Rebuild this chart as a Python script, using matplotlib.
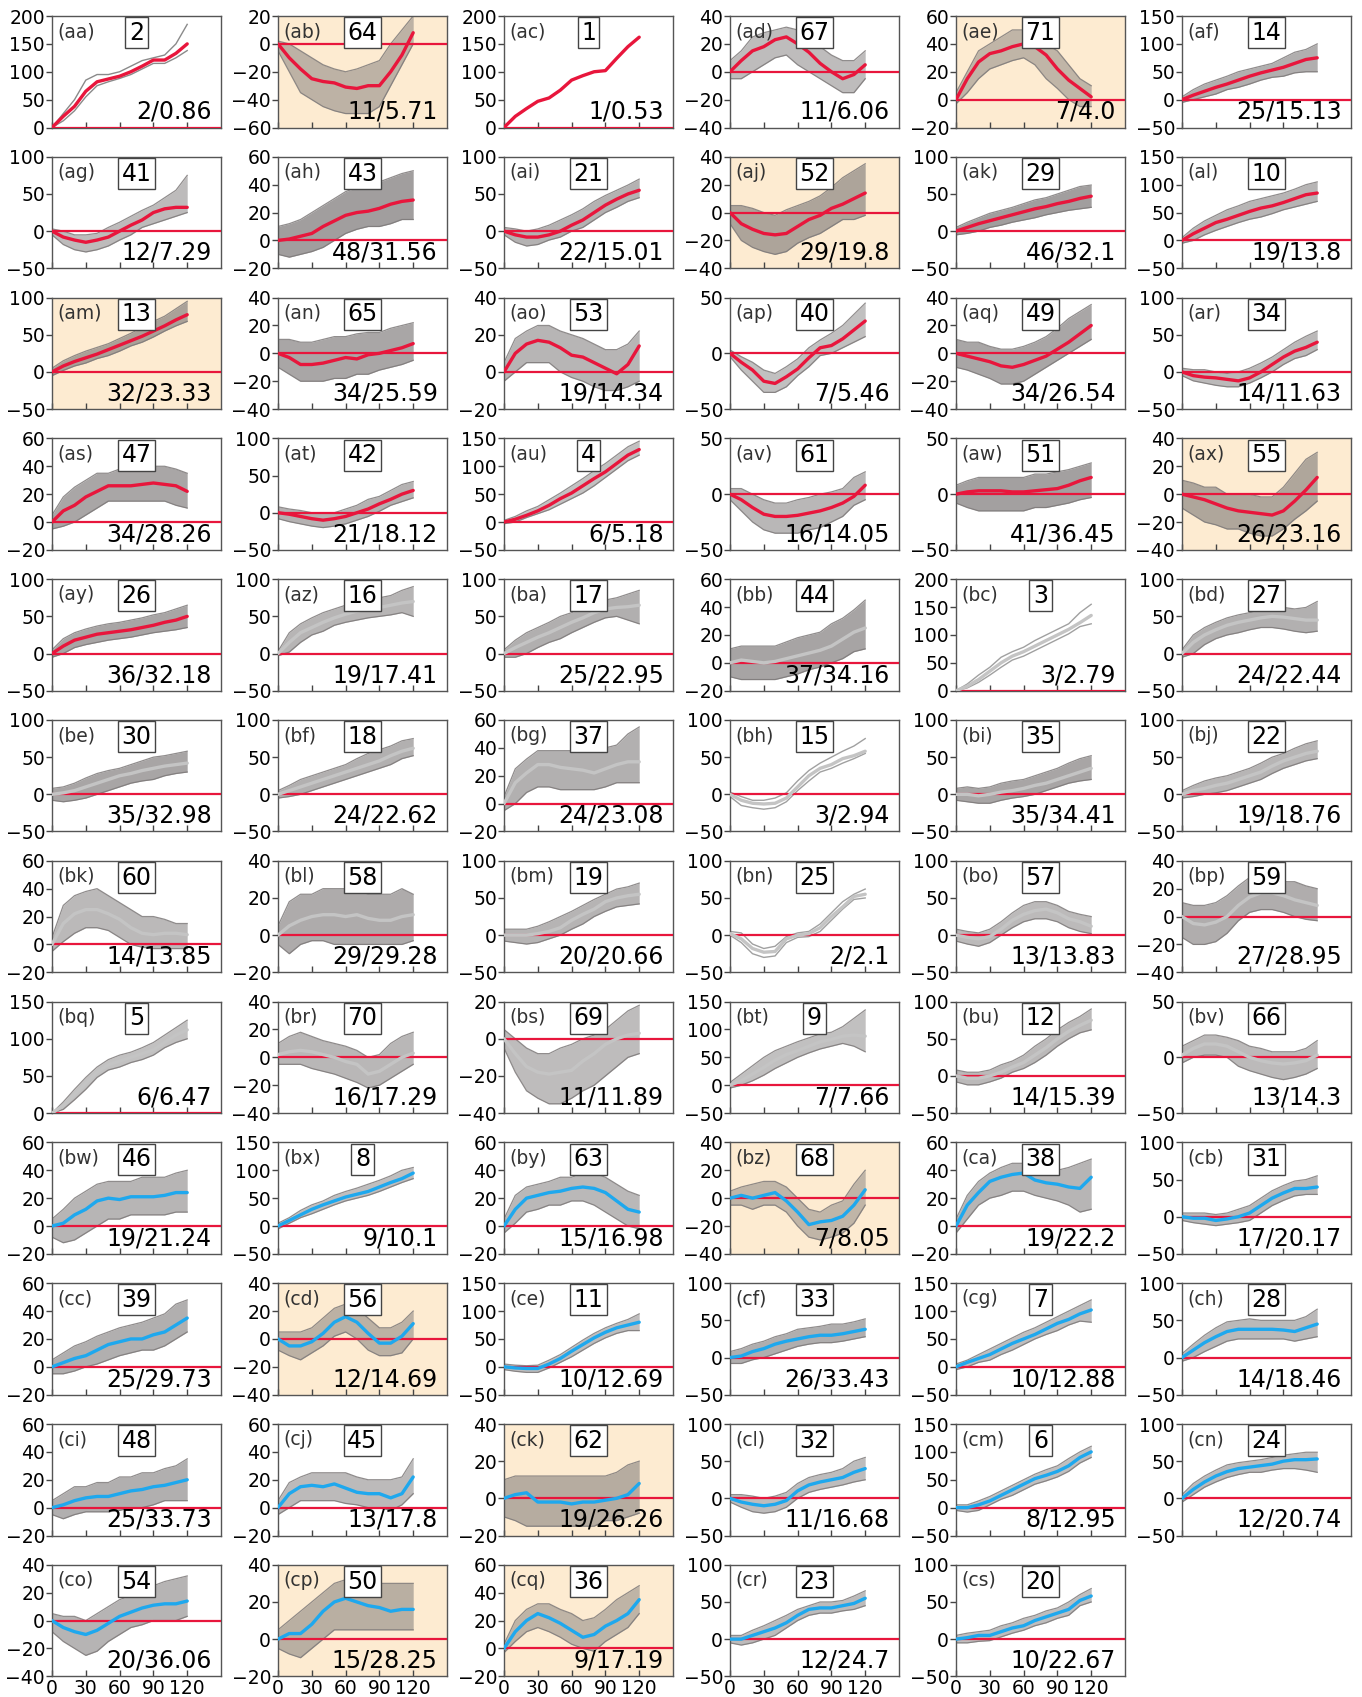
import matplotlib
matplotlib.use('Agg')
import matplotlib.pyplot as plt
import numpy as np

# ---------------- data ----------------
X = [0, 10, 20, 30, 40, 50, 60, 70, 80, 90, 100, 110, 120]

PANEL_IDS = ['aa', 'ab', 'ac', 'ad', 'ae', 'af',
             'ag', 'ah', 'ai', 'aj', 'ak', 'al',
             'am', 'an', 'ao', 'ap', 'aq', 'ar',
             'as', 'at', 'au', 'av', 'aw', 'ax',
             'ay', 'az', 'ba', 'bb', 'bc', 'bd',
             'be', 'bf', 'bg', 'bh', 'bi', 'bj',
             'bk', 'bl', 'bm', 'bn', 'bo', 'bp',
             'bq', 'br', 'bs', 'bt', 'bu', 'bv',
             'bw', 'bx', 'by', 'bz', 'ca', 'cb',
             'cc', 'cd', 'ce', 'cf', 'cg', 'ch',
             'ci', 'cj', 'ck', 'cl', 'cm', 'cn',
             'co', 'cp', 'cq', 'cr', 'cs']

BOX_NUMBERS = [2, 64, 1, 67, 71, 14,
               41, 43, 21, 52, 29, 10,
               13, 65, 53, 40, 49, 34,
               47, 42, 4, 61, 51, 55,
               26, 16, 17, 44, 3, 27,
               30, 18, 37, 15, 35, 22,
               60, 58, 19, 25, 57, 59,
               5, 70, 69, 9, 12, 66,
               46, 8, 63, 68, 38, 31,
               39, 56, 11, 33, 7, 28,
               48, 45, 62, 32, 6, 24,
               54, 50, 36, 23, 20]

NOTES = ['2/0.86', '11/5.71', '1/0.53', '11/6.06', '7/4.0', '25/15.13',
         '12/7.29', '48/31.56', '22/15.01', '29/19.8', '46/32.1', '19/13.8',
         '32/23.33', '34/25.59', '19/14.34', '7/5.46', '34/26.54', '14/11.63',
         '34/28.26', '21/18.12', '6/5.18', '16/14.05', '41/36.45', '26/23.16',
         '36/32.18', '19/17.41', '25/22.95', '37/34.16', '3/2.79', '24/22.44',
         '35/32.98', '24/22.62', '24/23.08', '3/2.94', '35/34.41', '19/18.76',
         '14/13.85', '29/29.28', '20/20.66', '2/2.1', '13/13.83', '27/28.95',
         '6/6.47', '16/17.29', '11/11.89', '7/7.66', '14/15.39', '13/14.3',
         '19/21.24', '9/10.1', '15/16.98', '7/8.05', '19/22.2', '17/20.17',
         '25/29.73', '12/14.69', '10/12.69', '26/33.43', '10/12.88', '14/18.46',
         '25/33.73', '13/17.8', '19/26.26', '11/16.68', '8/12.95', '12/20.74',
         '20/36.06', '15/28.25', '9/17.19', '12/24.7', '10/22.67']

YMIN = [0, -60, 0, -40, -20, -50,
        -50, -20, -50, -40, -50, -50,
        -50, -40, -20, -50, -40, -50,
        -20, -50, -50, -50, -50, -40,
        -50, -50, -50, -20, 0, -50,
        -50, -50, -20, -50, -50, -50,
        -20, -20, -50, -50, -50, -40,
        0, -40, -40, -50, -50, -50,
        -20, -50, -20, -40, -20, -50,
        -20, -40, -50, -50, -50, -50,
        -20, -20, -20, -50, -50, -50,
        -40, -20, -20, -50, -50]
YMAX = [200, 20, 200, 40, 60, 150,
        100, 60, 100, 40, 100, 150,
        100, 40, 40, 50, 40, 100,
        60, 100, 150, 50, 50, 40,
        100, 100, 100, 60, 200, 100,
        100, 100, 60, 100, 100, 100,
        60, 40, 100, 100, 100, 40,
        150, 40, 20, 150, 100, 50,
        60, 150, 60, 40, 60, 100,
        60, 40, 150, 100, 150, 100,
        60, 60, 40, 100, 150, 100,
        40, 40, 60, 100, 100]
YSTEP = [50, 20, 50, 20, 20, 50,
         50, 20, 50, 20, 50, 50,
         50, 20, 20, 50, 20, 50,
         20, 50, 50, 50, 50, 20,
         50, 50, 50, 20, 50, 50,
         50, 50, 20, 50, 50, 50,
         20, 20, 50, 50, 50, 20,
         50, 20, 20, 50, 50, 50,
         20, 50, 20, 20, 20, 50,
         20, 20, 50, 50, 50, 50,
         20, 20, 20, 50, 50, 50,
         20, 20, 20, 50, 50]

BEIGE_PANELS = ['ab', 'ae', 'aj', 'am', 'ax', 'bz', 'cd', 'ck', 'cp', 'cq']
RED_MEAN_PANELS = PANEL_IDS[:25]
GREY_MEAN_PANELS = PANEL_IDS[25:48]

MEAN = [
    [0, 20, 38, 65, 82, 87, 92, 100, 110, 121, 121, 133, 150],
    [0, -10, -18, -25, -27, -28, -31, -32, -30, -30, -20, -8, 8],
    [0, 20, 34, 47, 53, 67, 85, 93, 100, 102, 124, 145, 162],
    [0, 8, 15, 18, 23, 25, 20, 14, 6, 0, -5, -2, 5],
    [0, 15, 27, 33, 35, 38, 40, 38, 32, 22, 14, 8, 2],
    [0, 8, 15, 22, 28, 35, 42, 48, 53, 58, 65, 72, 75],
    [0, -8, -12, -15, -12, -8, 0, 8, 15, 25, 30, 32, 32],
    [0, 1, 3, 5, 10, 14, 18, 20, 21, 23, 26, 28, 29],
    [0, -5, -8, -8, -5, 0, 8, 15, 25, 35, 43, 50, 55],
    [0, -8, -12, -15, -16, -15, -10, -5, -2, 3, 6, 10, 14],
    [0, 5, 10, 14, 18, 22, 26, 30, 33, 37, 40, 44, 47],
    [0, 12, 22, 32, 38, 45, 52, 58, 62, 68, 75, 82, 85],
    [0, 8, 14, 19, 24, 30, 36, 42, 48, 55, 62, 70, 77],
    [0, -3, -8, -8, -7, -5, -3, -4, -1, 0, 2, 4, 7],
    [0, 10, 15, 17, 16, 13, 9, 8, 5, 2, -1, 4, 14],
    [0, -8, -15, -25, -27, -21, -14, -4, 5, 7, 13, 21, 29],
    [0, -2, -4, -6, -9, -10, -8, -5, -2, 3, 8, 14, 20],
    [0, -5, -7, -8, -10, -12, -8, 0, 10, 20, 28, 33, 40],
    [0, 8, 12, 18, 22, 26, 26, 26, 27, 28, 27, 26, 22],
    [0, -2, -5, -8, -10, -8, -5, 0, 5, 12, 18, 25, 30],
    [0, 5, 12, 20, 30, 42, 52, 65, 78, 90, 105, 120, 130],
    [0, -5, -12, -18, -20, -20, -19, -17, -15, -12, -8, -2, 8],
    [0, 2, 3, 3, 3, 2, 2, 3, 4, 5, 8, 12, 15],
    [0, -2, -4, -7, -10, -12, -13, -14, -15, -12, -5, 3, 12],
    [0, 10, 18, 22, 26, 28, 30, 32, 35, 38, 42, 45, 50],
    [0, 15, 28, 35, 42, 48, 53, 57, 60, 62, 65, 68, 70],
    [0, 8, 15, 22, 28, 35, 42, 48, 55, 60, 62, 63, 65],
    [0, 2, 1, 0, 1, 3, 5, 7, 9, 12, 17, 22, 25],
    [0, 8, 20, 35, 50, 62, 70, 80, 90, 100, 110, 122, 135],
    [0, 15, 25, 32, 38, 42, 45, 48, 50, 49, 47, 45, 45],
    [0, 2, 5, 10, 15, 20, 25, 28, 32, 35, 38, 40, 42],
    [0, 5, 10, 15, 20, 25, 30, 35, 40, 45, 52, 58, 62],
    [0, 15, 22, 28, 28, 26, 25, 24, 22, 25, 28, 30, 30],
    [0, -8, -12, -13, -12, -5, 10, 25, 35, 40, 48, 52, 58],
    [0, 0, -2, 0, 3, 5, 8, 12, 15, 20, 25, 30, 35],
    [0, 5, 8, 12, 15, 20, 25, 30, 38, 45, 50, 55, 58],
    [0, 15, 22, 25, 25, 22, 18, 12, 8, 7, 8, 8, 7],
    [0, 5, 8, 10, 11, 11, 10, 11, 9, 8, 8, 10, 11],
    [0, 0, 0, 2, 5, 10, 20, 28, 35, 45, 50, 53, 55],
    [2, -5, -18, -23, -22, -5, 0, 2, 10, 25, 38, 52, 55],
    [0, -3, -5, -2, 8, 20, 28, 33, 35, 30, 22, 18, 12],
    [0, -5, -6, -4, 0, 8, 14, 17, 17, 15, 12, 10, 8],
    [0, 10, 25, 40, 55, 65, 70, 75, 80, 85, 95, 105, 112],
    [2, 4, 5, 4, 2, 0, -3, -5, -12, -10, -5, 0, 3],
    [0, -8, -15, -18, -19, -18, -17, -12, -8, -3, 0, 2, 3],
    [0, 8, 20, 32, 45, 55, 62, 70, 78, 82, 88, 90, 88],
    [0, -3, -3, 0, 5, 12, 18, 28, 38, 50, 60, 68, 75],
    [2, 8, 12, 12, 10, 5, 0, -3, -5, -6, -5, -3, 2],
    [0, 2, 8, 12, 18, 20, 19, 21, 21, 21, 22, 24, 24],
    [0, 10, 20, 30, 38, 45, 52, 57, 62, 70, 78, 85, 95],
    [0, 12, 20, 22, 24, 25, 27, 28, 27, 24, 18, 12, 10],
    [0, 2, 0, 2, 4, -2, -10, -19, -17, -16, -13, -5, 6],
    [0, 15, 24, 32, 35, 37, 38, 33, 31, 30, 28, 27, 35],
    [0, -2, -2, -5, -3, 0, 5, 15, 25, 32, 38, 38, 40],
    [0, 3, 6, 8, 12, 16, 18, 20, 20, 23, 25, 30, 35],
    [0, -5, -5, -2, 4, 12, 16, 12, 4, -3, -3, 2, 11],
    [0, -2, -3, -3, 5, 15, 28, 40, 52, 62, 70, 75, 80],
    [0, 2, 8, 12, 18, 22, 25, 28, 30, 30, 32, 35, 38],
    [0, 8, 15, 22, 32, 42, 50, 58, 68, 78, 85, 95, 102],
    [0, 10, 20, 28, 35, 38, 38, 38, 38, 37, 35, 40, 45],
    [0, 2, 5, 7, 8, 8, 10, 12, 13, 15, 16, 18, 20],
    [0, 10, 15, 16, 15, 17, 14, 11, 10, 10, 7, 10, 22],
    [0, 2, 3, -2, -2, -2, -3, -2, -2, -1, 0, 2, 8],
    [0, -5, -8, -10, -8, -3, 10, 18, 22, 25, 28, 35, 40],
    [0, 0, 5, 12, 22, 32, 42, 52, 58, 65, 75, 90, 100],
    [0, 12, 22, 30, 36, 40, 42, 44, 46, 50, 52, 52, 53],
    [0, -5, -8, -10, -7, -2, 3, 6, 9, 11, 12, 12, 14],
    [0, 3, 3, 8, 15, 20, 22, 20, 18, 17, 15, 16, 16],
    [0, 12, 20, 25, 22, 18, 13, 8, 10, 16, 20, 25, 35],
    [0, 0, 5, 10, 15, 22, 32, 40, 42, 42, 45, 48, 55],
    [0, 2, 5, 5, 10, 15, 18, 25, 30, 35, 40, 52, 58],
]

LOW = [
    [0, 12, 30, 55, 75, 82, 88, 95, 105, 115, 115, 125, 138],
    [-5, -20, -35, -40, -45, -48, -50, -50, -50, -45, -30, -15, 0],
    [0, 20, 34, 47, 53, 67, 85, 93, 100, 102, 124, 145, 162],
    [-5, -5, 0, 5, 10, 12, 5, 0, -5, -10, -15, -15, -5],
    [-3, 5, 15, 22, 25, 28, 30, 25, 15, 8, 0, -5, -5],
    [-5, 0, 5, 10, 18, 22, 28, 35, 40, 42, 48, 50, 50],
    [-5, -18, -25, -28, -25, -20, -12, -5, 5, 10, 15, 20, 25],
    [-10, -12, -10, -8, -5, 0, 5, 8, 10, 10, 12, 15, 15],
    [-5, -15, -20, -18, -12, -8, 0, 5, 15, 25, 32, 40, 45],
    [-8, -20, -25, -28, -30, -28, -22, -18, -15, -10, -5, -5, -2],
    [-5, -3, 0, 5, 8, 12, 15, 18, 22, 25, 28, 30, 32],
    [-5, 0, 10, 18, 25, 32, 38, 42, 48, 55, 60, 65, 70],
    [-5, 2, 8, 12, 18, 22, 28, 35, 40, 47, 55, 62, 68],
    [-10, -15, -20, -20, -20, -18, -18, -15, -15, -12, -10, -8, -5],
    [-5, 0, 5, 5, 5, 0, -3, -5, -8, -10, -10, -8, -5],
    [-3, -15, -25, -35, -35, -30, -20, -12, -2, 0, 5, 10, 15],
    [-10, -12, -15, -18, -22, -22, -20, -15, -10, -5, 0, 5, 10],
    [-5, -12, -15, -18, -20, -20, -15, -8, 0, 10, 18, 22, 30],
    [-5, -3, 0, 5, 10, 15, 15, 15, 15, 15, 15, 12, 10],
    [-8, -12, -15, -18, -20, -18, -15, -10, -5, 2, 10, 15, 20],
    [-3, 0, 8, 15, 22, 32, 42, 52, 65, 80, 95, 110, 120],
    [-5, -15, -25, -32, -35, -35, -35, -32, -30, -25, -20, -10, -5],
    [-8, -12, -15, -15, -15, -15, -15, -12, -12, -10, -8, -5, -3],
    [-10, -15, -20, -22, -25, -25, -28, -30, -30, -25, -18, -12, -5],
    [-5, 0, 8, 12, 15, 18, 20, 22, 25, 28, 30, 32, 35],
    [-3, 2, 15, 25, 30, 38, 42, 45, 48, 50, 52, 55, 50],
    [-5, -5, 0, 8, 15, 20, 28, 35, 42, 48, 50, 45, 40],
    [-10, -12, -12, -12, -12, -10, -8, -5, -3, 0, 3, 8, 10],
    [0, 5, 15, 28, 42, 55, 62, 72, 82, 92, 102, 115, 120],
    [-5, 0, 12, 20, 25, 28, 32, 35, 35, 33, 30, 28, 30],
    [-8, -10, -8, -5, 0, 5, 10, 15, 18, 20, 25, 28, 30],
    [-5, -3, 0, 5, 10, 15, 20, 25, 30, 35, 40, 48, 52],
    [-5, 0, 8, 12, 12, 10, 10, 10, 10, 12, 15, 15, 15],
    [-3, -15, -18, -20, -18, -10, 5, 18, 30, 35, 42, 48, 55],
    [-8, -10, -12, -12, -8, -5, -3, 0, 5, 10, 15, 18, 20],
    [-5, -3, 0, 2, 5, 10, 15, 20, 28, 35, 40, 45, 48],
    [-5, 2, 8, 12, 12, 10, 5, 0, -2, -3, -3, -3, -3],
    [-5, -10, -5, -3, -3, -5, -5, -5, -5, -5, -5, -5, -3],
    [-8, -10, -12, -10, -5, 0, 8, 15, 25, 32, 38, 40, 42],
    [0, -10, -25, -30, -28, -10, -3, -2, 5, 20, 35, 48, 50],
    [-8, -12, -15, -10, 0, 10, 18, 22, 22, 18, 10, 5, 2],
    [-15, -20, -20, -18, -12, -3, 3, 5, 5, 3, 0, -2, -3],
    [0, 5, 18, 32, 48, 58, 62, 68, 72, 78, 88, 95, 100],
    [-5, -5, -5, -8, -10, -12, -15, -18, -22, -20, -15, -10, -5],
    [-5, -18, -28, -32, -35, -35, -32, -28, -25, -20, -15, -10, -8],
    [-5, 0, 8, 18, 30, 40, 50, 58, 65, 70, 75, 70, 60],
    [-8, -12, -12, -8, -3, 5, 10, 18, 28, 40, 50, 58, 62],
    [-5, 0, 2, 2, 0, -8, -12, -15, -18, -20, -18, -15, -10],
    [-8, -12, -10, -5, 0, 5, 5, 8, 8, 8, 8, 10, 10],
    [-5, 5, 15, 22, 30, 38, 45, 50, 55, 62, 70, 78, 85],
    [-5, 2, 10, 12, 15, 15, 18, 18, 15, 10, 5, 0, -2],
    [-5, -5, -8, -5, -5, -10, -20, -28, -30, -28, -25, -18, -5],
    [-5, 5, 15, 20, 22, 25, 25, 22, 20, 18, 15, 10, 12],
    [-5, -8, -10, -12, -10, -8, -5, 5, 15, 22, 28, 30, 30],
    [-5, -5, -3, 0, 2, 5, 8, 10, 12, 12, 15, 20, 25],
    [-8, -12, -15, -10, -5, 2, 5, 0, -8, -12, -12, -10, 0],
    [-5, -8, -10, -10, -2, 8, 18, 30, 42, 52, 60, 65, 65],
    [-8, -8, -3, 0, 5, 10, 15, 18, 20, 20, 22, 25, 28],
    [-5, 0, 8, 12, 22, 30, 40, 50, 58, 65, 75, 82, 80],
    [-5, 0, 8, 15, 22, 25, 25, 25, 25, 25, 22, 25, 28],
    [-5, -8, -5, -3, -3, -3, -2, 0, 0, 2, 5, 5, 5],
    [-5, 0, 5, 5, 5, 5, 3, 2, 0, 0, -2, 2, 10],
    [-10, -12, -15, -15, -15, -15, -15, -15, -15, -12, -12, -10, -8],
    [-5, -12, -18, -20, -18, -12, 0, 8, 12, 15, 18, 22, 25],
    [-5, -8, -5, 5, 15, 22, 32, 42, 48, 55, 65, 80, 90],
    [-5, 5, 15, 22, 28, 32, 35, 35, 38, 40, 40, 38, 35],
    [-8, -15, -20, -25, -22, -15, -10, -5, -3, 0, 0, 0, 3],
    [-5, -8, -10, -5, 0, 5, 5, 5, 5, 5, 5, 5, 5],
    [-3, 5, 12, 15, 12, 8, 3, 0, -2, 5, 10, 15, 25],
    [-5, -8, -5, 0, 5, 15, 25, 32, 35, 35, 38, 40, 45],
    [-5, -5, -3, -2, 3, 8, 12, 18, 22, 28, 32, 45, 50],
]

HIGH = [
    [0, 25, 50, 85, 95, 95, 100, 110, 120, 125, 130, 150, 185],
    [2, 0, -5, -10, -15, -18, -20, -18, -15, -12, 0, 10, 20],
    [0, 20, 34, 47, 53, 67, 85, 93, 100, 102, 124, 145, 162],
    [8, 15, 25, 28, 30, 32, 30, 25, 18, 12, 8, 8, 15],
    [5, 20, 35, 40, 45, 50, 50, 45, 40, 35, 25, 15, 10],
    [5, 18, 28, 35, 42, 50, 55, 60, 65, 75, 85, 90, 100],
    [3, 0, -5, -5, -3, 5, 12, 20, 28, 35, 45, 55, 75],
    [10, 12, 15, 20, 25, 30, 35, 38, 40, 42, 45, 48, 50],
    [5, 3, 0, 3, 8, 15, 22, 30, 40, 48, 55, 62, 70],
    [5, 5, 3, 0, -2, 2, 5, 8, 12, 18, 25, 30, 35],
    [5, 12, 18, 24, 28, 32, 37, 42, 45, 50, 55, 60, 62],
    [5, 22, 35, 45, 55, 62, 70, 75, 80, 85, 92, 100, 105],
    [5, 15, 22, 28, 33, 38, 45, 52, 60, 68, 75, 85, 95],
    [10, 10, 8, 8, 10, 12, 12, 14, 15, 15, 18, 20, 22],
    [5, 18, 22, 25, 25, 22, 20, 18, 15, 12, 12, 15, 22],
    [3, -3, -8, -15, -18, -12, -5, 5, 12, 18, 25, 35, 45],
    [10, 8, 8, 5, 3, 3, 5, 8, 12, 18, 25, 30, 35],
    [5, 3, 3, 0, -2, 0, 5, 12, 20, 30, 40, 48, 55],
    [5, 18, 25, 30, 35, 35, 38, 38, 40, 40, 40, 38, 35],
    [8, 5, 3, 0, 0, 0, 5, 10, 18, 22, 30, 38, 42],
    [3, 10, 20, 28, 40, 52, 65, 78, 92, 105, 120, 135, 145],
    [5, 5, 0, -5, -8, -8, -5, -3, 0, 2, 5, 15, 20],
    [8, 12, 15, 15, 15, 15, 15, 18, 18, 20, 22, 25, 28],
    [10, 8, 5, 5, 0, 0, 0, -2, -2, 5, 15, 25, 30],
    [5, 20, 28, 33, 37, 40, 42, 45, 48, 52, 55, 60, 65],
    [3, 28, 40, 48, 55, 60, 65, 70, 72, 75, 78, 85, 90],
    [5, 18, 28, 35, 42, 50, 55, 62, 68, 72, 75, 80, 85],
    [10, 12, 12, 12, 12, 15, 18, 20, 22, 28, 32, 38, 45],
    [0, 12, 28, 42, 60, 70, 78, 90, 100, 110, 120, 140, 155],
    [5, 25, 35, 42, 48, 52, 55, 58, 60, 62, 60, 62, 70],
    [8, 10, 15, 22, 28, 32, 35, 40, 45, 50, 52, 55, 58],
    [5, 12, 20, 25, 30, 35, 40, 48, 55, 60, 65, 72, 75],
    [5, 25, 32, 38, 38, 38, 38, 38, 38, 40, 42, 50, 55],
    [3, -3, -8, -8, -5, 2, 18, 32, 42, 50, 58, 65, 75],
    [8, 10, 8, 10, 15, 18, 20, 25, 30, 35, 42, 48, 52],
    [5, 12, 18, 22, 25, 30, 35, 42, 50, 55, 62, 68, 72],
    [5, 28, 35, 38, 40, 35, 30, 25, 20, 20, 18, 15, 15],
    [5, 18, 22, 22, 25, 25, 25, 25, 22, 22, 22, 25, 22],
    [8, 8, 8, 12, 18, 25, 32, 40, 48, 55, 62, 65, 70],
    [5, 3, -12, -18, -15, -2, 3, 5, 15, 30, 45, 55, 62],
    [8, 5, 3, 8, 18, 30, 40, 45, 45, 40, 32, 28, 25],
    [10, 8, 8, 10, 15, 22, 28, 28, 28, 25, 25, 22, 20],
    [0, 15, 32, 48, 62, 72, 78, 82, 88, 95, 105, 115, 125],
    [10, 15, 18, 15, 12, 10, 8, 5, 0, 2, 10, 15, 18],
    [5, 0, -5, -8, -8, -5, -3, 0, 2, 5, 10, 15, 18],
    [5, 20, 35, 50, 62, 70, 78, 85, 92, 95, 105, 120, 135],
    [8, 5, 5, 8, 15, 20, 28, 40, 50, 62, 72, 80, 90],
    [10, 15, 20, 20, 18, 15, 10, 8, 5, 5, 5, 8, 15],
    [5, 12, 20, 25, 30, 32, 32, 32, 35, 35, 35, 38, 40],
    [5, 15, 28, 38, 45, 55, 62, 68, 75, 82, 90, 100, 105],
    [5, 22, 28, 30, 32, 35, 35, 38, 38, 35, 30, 25, 22],
    [5, 8, 10, 12, 12, 8, 0, -8, -10, -5, -2, 10, 20],
    [5, 22, 32, 38, 42, 45, 45, 42, 40, 40, 42, 45, 48],
    [5, 5, 5, 3, 5, 10, 15, 25, 35, 42, 48, 50, 55],
    [5, 10, 15, 18, 22, 25, 28, 30, 32, 35, 38, 45, 48],
    [5, 5, 5, 8, 15, 22, 25, 22, 15, 8, 8, 12, 20],
    [5, 3, 2, 3, 12, 22, 35, 48, 60, 70, 78, 85, 95],
    [8, 12, 18, 22, 28, 32, 38, 40, 42, 45, 45, 48, 52],
    [5, 12, 22, 32, 42, 52, 62, 70, 80, 90, 100, 110, 120],
    [5, 18, 30, 40, 48, 50, 52, 50, 50, 50, 50, 55, 65],
    [5, 10, 15, 15, 18, 18, 22, 22, 25, 25, 28, 30, 35],
    [5, 18, 22, 25, 25, 25, 25, 22, 20, 20, 20, 22, 35],
    [10, 12, 12, 12, 12, 12, 12, 12, 12, 12, 14, 18, 20],
    [5, 5, 3, 0, 3, 8, 20, 28, 32, 35, 40, 50, 55],
    [5, 5, 12, 20, 30, 40, 50, 60, 68, 75, 88, 100, 110],
    [5, 20, 30, 38, 45, 48, 50, 52, 55, 58, 60, 62, 62],
    [5, 3, 3, 0, 5, 10, 15, 18, 22, 25, 28, 30, 32],
    [5, 10, 15, 20, 25, 30, 32, 32, 32, 30, 30, 30, 30],
    [3, 20, 28, 32, 32, 28, 25, 20, 22, 28, 35, 40, 45],
    [5, 5, 12, 18, 25, 32, 40, 45, 50, 50, 52, 58, 65],
    [5, 8, 10, 12, 18, 22, 28, 32, 38, 42, 50, 60, 68],
]

X_TICKS = [0, 30, 60, 90, 120]

# ---------------- style ----------------
RED = '#e8163c'
BLUE = '#1ea8ee'
GREY_MEAN = '#c4c4c4'
REP_GREY = '#7d7979'
BEIGE = '#fdebd1'

W_PX, H_PX = 1362, 1697
fig = plt.figure(figsize=(W_PX / 100, H_PX / 100), dpi=100)

AX_LEFT0, AX_PITCH_X, AX_W = 52, 226, 169
AX_TOP0, AX_PITCH_Y, AX_H = 16, 140.8, 111.5

for i, pid in enumerate(PANEL_IDS):
    r, c = divmod(i, 6)
    left = (AX_LEFT0 + c * AX_PITCH_X) / W_PX
    bottom = 1 - (AX_TOP0 + r * AX_PITCH_Y + AX_H) / H_PX
    ax = fig.add_axes([left, bottom, AX_W / W_PX, AX_H / H_PX])
    if pid in BEIGE_PANELS:
        ax.set_facecolor(BEIGE)

    n = int(NOTES[i].split('/')[0])
    lo, hi, mean = LOW[i], HIGH[i], MEAN[i]

    if n <= 3:
        rep_col = '#a0a0a0' if pid in GREY_MEAN_PANELS else '#8a8a8a'
        ax.plot(X, lo, color=rep_col, lw=1.0, zorder=2)
        ax.plot(X, hi, color=rep_col, lw=1.0, zorder=2)
    else:
        a = min(0.72, 0.42 + 0.007 * n)
        ax.fill_between(X, lo, hi, color=REP_GREY, alpha=a, lw=0, zorder=1)
        ax.plot(X, lo, color=REP_GREY, lw=0.9, alpha=0.85, zorder=2)
        ax.plot(X, hi, color=REP_GREY, lw=0.9, alpha=0.85, zorder=2)

    ax.axhline(0, color=RED, lw=1.6, zorder=3)

    if pid in RED_MEAN_PANELS:
        mc = RED
    elif pid in GREY_MEAN_PANELS:
        mc = GREY_MEAN
    else:
        mc = BLUE
    ax.plot(X, mean, color=mc, lw=2.4, zorder=4, solid_capstyle='round')

    ax.set_xlim(0, 150)
    ax.set_ylim(YMIN[i], YMAX[i])
    ax.set_yticks(np.arange(YMIN[i], YMAX[i] + 1, YSTEP[i]))
    ax.set_xticks(X_TICKS)
    ax.tick_params(axis='y', direction='out', length=4, width=1,
                   labelsize=13.5, pad=1, color='#444444')
    ax.tick_params(axis='x', direction='in', length=4, width=1,
                   labelsize=13.5, pad=2, color='#444444')
    if r != 11:
        ax.set_xticklabels([])
    for s in ax.spines.values():
        s.set_color('#555555')
        s.set_linewidth(1.0)

    ax.text(0.03, 0.86, f'({pid})', transform=ax.transAxes, ha='left',
            va='center', fontsize=13.5, color='#333333', zorder=6)
    ax.text(0.5, 0.85, str(BOX_NUMBERS[i]), transform=ax.transAxes,
            ha='center', va='center', fontsize=17, color='black', zorder=7,
            bbox=dict(boxstyle='square,pad=0.15', fc='white',
                      ec='#444444', lw=1.0))
    ax.text(0.945, 0.14, NOTES[i], transform=ax.transAxes, ha='right',
            va='center', fontsize=17, color='black', zorder=6)

fig.savefig('out.png', dpi=100)
